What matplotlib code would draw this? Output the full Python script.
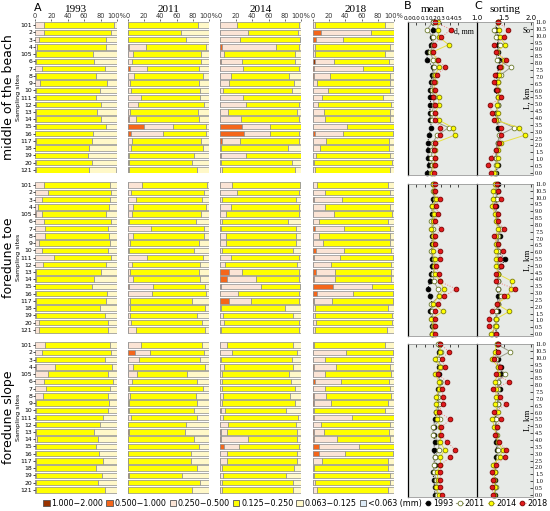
import matplotlib.pyplot as plt
from matplotlib.patches import Patch
from matplotlib.lines import Line2D

# ---- data -------------------------------------------------------------
sites = ['101', '2', '3', '4', '105', '6', '7', '8', '9', '10', '111', '12',
         '13', '14', '15', '16', '117', '18', '19', '20', '121']
site_km = [11.0, 10.45, 9.9, 9.35, 8.8, 8.25, 7.7, 7.15, 6.6, 6.05, 5.5,
           4.95, 4.4, 3.85, 3.3, 2.75, 2.2, 1.65, 1.1, 0.55, 0.0]
years = ['1993', '2011', '2014', '2018']
zones = ['middle of the beach', 'foredune toe', 'foredune slope']
fractions = ['1.000\u22122.000', '0.500\u22121.000', '0.250\u22120.500',
             '0.125\u22120.250', '0.063\u22120.125', '<0.063 (mm)']

# grain-size fractions, % (coarse ones given only where present: {row: %})
# middle of the beach
beach_1993_c1 = {}
beach_1993_c2 = {}
beach_1993_pink = [11.5, 10.7, 4.5, 2.5, 1, 1, 8.2, 1, 6.6, 1.6, 1, 1.6, 1, 1.6, 1.6, 0.5, 1.6, 0.5, 0.5, 1, 1]
beach_1993_yel = [84.5, 82.3, 81.5, 83.5, 69.8, 71.4, 77, 73, 80.6, 77.8, 73, 79.4, 75, 78.4, 84.4, 70.5, 67.5, 65.5, 64.5, 68.5, 64.5]
beach_1993_pale = [4, 7, 14, 14, 29, 27.6, 15, 26, 13, 20.6, 26, 19, 24, 20, 14, 29, 31, 34, 35, 30.5, 33]

beach_2011_c1 = {3: 1, 13: 1}
beach_2011_c2 = {6: 2, 14: 19.3, 15: 3.3}
beach_2011_pink = [0.5, 0, 0, 21, 6, 5.3, 21.5, 7, 2, 4, 16.5, 12.3, 2, 8.5, 36.2, 39.7, 5, 3.3, 1, 1, 1]
beach_2011_yel = [86, 65.8, 72, 74, 84.5, 85, 64, 85.6, 85.6, 84.5, 72.5, 81.5, 84.4, 78, 40.5, 53.7, 85.5, 89.3, 80.5, 78.4, 84.6]
beach_2011_pale = [13.5, 34, 28, 4, 9.5, 9.5, 12.5, 7.4, 12.4, 11.5, 11, 6, 13.6, 12.4, 4, 3.3, 9.5, 7.4, 18.5, 20.6, 14.4]

beach_2014_c1 = {5: 0.8, 18: 1}
beach_2014_c2 = {3: 2.5, 14: 27, 15: 30, 16: 2}
beach_2014_pink = [21.4, 34, 24.7, 66.5, 5.3, 26, 29, 13, 11, 4, 28.8, 32.5, 10.3, 26, 34.7, 31.7, 22.7, 1, 30.7, 1, 2]
beach_2014_yel = [76.6, 62, 74, 29, 86.7, 66, 69, 72.6, 80.8, 85.3, 70.8, 65, 85.2, 72, 38, 35.3, 73.3, 82.5, 68, 88.3, 90.6]
beach_2014_pale = [2, 4, 1.3, 2, 8, 7.2, 2, 14.4, 8.2, 10.7, 0.4, 2.5, 4.5, 2, 0.3, 3, 2, 16.5, 0.3, 10.7, 7.4]

beach_2018_c1 = {5: 2.5}
beach_2018_c2 = {1: 10, 2: 3.3, 6: 1.6, 7: 1.5, 15: 2.5}
beach_2018_pink = [3, 62, 33.7, 3, 2, 23.8, 59.7, 20, 5, 18, 11.5, 6.6, 13, 15.2, 42, 34.5, 16, 8.2, 3.7, 1.5, 3]
beach_2018_yel = [85.5, 27.6, 62.6, 91.7, 87.3, 67, 37.5, 74, 90.5, 77.5, 75, 89.7, 82.5, 79.5, 57.6, 61.8, 78.2, 85.2, 91.8, 96, 91.7]
beach_2018_pale = [11.5, 0.4, 0.4, 5.3, 10.7, 6.7, 1.2, 4.5, 4.5, 4.5, 13.5, 3.7, 4.5, 5.3, 0.4, 1.2, 5.8, 6.6, 4.5, 2.5, 5.3]

# foredune toe
toe_1993_c1 = {4: 0.8}
toe_1993_c2 = {}
toe_1993_pink = [11.5, 15.6, 8.2, 3.3, 7.8, 11.5, 12.8, 12.8, 4.5, 8.2, 23, 10.3, 1.6, 1.6, 0.5, 1.6, 1.6, 1.6, 1.6, 5.3, 5.3]
toe_1993_yel = [79.5, 77.4, 83.6, 86.4, 78.2, 81.5, 75.7, 77, 86.5, 80.3, 69.6, 76.5, 79, 70.8, 68.5, 86.4, 84.4, 77.8, 83.2, 83.7, 83.7]
toe_1993_pale = [9, 7, 8.2, 10.3, 13.2, 7, 11.5, 10.2, 9, 11.5, 7.4, 13.2, 19.4, 27.6, 31, 12, 14, 20.6, 15.2, 11, 11]

toe_2011_c1 = {14: 1.2}
toe_2011_c2 = {}
toe_2011_pink = [17.7, 4, 10.3, 6, 5.3, 1, 28.8, 6, 2, 1, 24, 5.3, 3, 6, 29.8, 29.6, 2, 2, 2, 4, 10.3]
toe_2011_yel = [79.8, 89.4, 81, 90.7, 85.2, 83.4, 64.6, 87.4, 85.2, 80, 68.6, 84, 84.2, 83.3, 64.5, 67.1, 77.4, 93.5, 83.6, 87.8, 85.2]
toe_2011_pale = [2.5, 6.6, 8.7, 3.3, 9.5, 15.6, 6.6, 6.6, 12.8, 19, 7.4, 10.7, 12.8, 10.7, 4.5, 3.3, 20.6, 4.5, 14.4, 8.2, 4.5]

toe_2014_c1 = {14: 1}
toe_2014_c2 = {12: 11, 13: 8.2, 16: 11}
toe_2014_pink = [14.4, 21, 2, 13, 7.4, 3, 1.6, 7.4, 7, 3, 13.6, 6.2, 16.6, 35.8, 49.2, 22.6, 27.3, 1, 4, 5, 1]
toe_2014_yel = [84.4, 77, 91.8, 84.5, 89.6, 80.5, 92.2, 86, 86.4, 87.5, 84.4, 89.3, 70.4, 54, 48.6, 75.4, 59.7, 79.6, 86.5, 92, 96]
toe_2014_pale = [1.2, 2, 6.2, 2.5, 3, 16.5, 6.2, 6.6, 6.6, 9.5, 2, 4.5, 2, 2, 1.2, 2, 2, 19.4, 9.5, 3, 3]

toe_2018_c1 = {2: 1, 10: 1, 16: 1}
toe_2018_c2 = {6: 3, 9: 3.7, 12: 3.7, 13: 1, 14: 24.7, 15: 5}
toe_2018_pink = [5, 14.4, 34.8, 14.4, 25.5, 7, 35.7, 7.8, 12, 34.2, 32, 22.6, 23.9, 25.7, 48.1, 44, 22.5, 3, 3, 3.7, 3]
toe_2018_yel = [87.2, 81, 63.8, 81, 72, 85.2, 56.8, 86.9, 83.5, 58.4, 65.8, 73.7, 68.7, 69.6, 26.8, 49.8, 75.3, 89.6, 94.5, 93.8, 88.4]
toe_2018_pale = [7.8, 4.6, 0.4, 4.6, 2.5, 7.8, 4.5, 5.3, 4.5, 3.7, 1.2, 3.7, 3.7, 3.7, 0.4, 1.2, 1.2, 7.4, 2.5, 2.5, 8.6]

# foredune slope
slope_1993_c1 = {3: 1}
slope_1993_c2 = {}
slope_1993_pink = [12.8, 8.2, 1.2, 23, 15.6, 10.7, 14, 9.5, 1.6, 1.6, 1, 1, 1, 2.5, 1, 1, 1, 1, 1, 1, 1.6]
slope_1993_yel = [79, 84.4, 83.8, 69.8, 73.4, 84, 77, 79, 88.1, 87.4, 81.7, 78.4, 71.4, 74.9, 73.5, 77.2, 82.5, 73, 81.3, 75.5, 83.2]
slope_1993_pale = [8.2, 7.4, 15, 6.2, 11, 5.3, 9, 11.5, 10.3, 11, 17.3, 20.6, 27.6, 22.6, 25.5, 21.8, 16.5, 26, 17.7, 23.5, 15.2]

slope_2011_c1 = {12: 0.8, 18: 0.8}
slope_2011_c2 = {1: 9}
slope_2011_pink = [16.5, 17.7, 13.6, 6, 11, 5, 1, 2.5, 1, 1.5, 4, 0.5, 0, 0.5, 0.5, 0.5, 0.5, 0.5, 0, 0.5, 0.5]
slope_2011_yel = [75.3, 66.7, 74.9, 89.5, 61.8, 80.2, 91.6, 81.9, 84.2, 79.5, 81.2, 70.7, 70, 80.5, 87.1, 77.7, 76.9, 84.7, 66.2, 88, 78.9]
slope_2011_pale = [8.2, 6.6, 11.5, 4.5, 27.2, 14.8, 7.4, 15.6, 14.8, 19, 14.8, 28.8, 29.2, 19, 12.4, 21.8, 22.6, 14.8, 33, 11.5, 20.6]

slope_2014_c1 = {9: 1, 12: 1, 13: 1}
slope_2014_c2 = {14: 5.3}
slope_2014_pink = [8.2, 14.4, 1, 5.3, 2, 2.5, 2.5, 3.3, 3, 5.2, 4, 9.5, 8, 34, 18.6, 8.2, 8.2, 2.5, 3.3, 2, 2]
slope_2014_yel = [81.5, 81.1, 87.5, 85.2, 83.6, 85.1, 90.5, 83.1, 89.6, 74.8, 91.9, 83.9, 85.7, 59.7, 74.1, 86.5, 86.5, 89.3, 77.7, 88, 88]
slope_2014_pale = [10.3, 4.5, 11.5, 9.5, 14.4, 12.4, 7, 13.6, 7.4, 19, 4.1, 6.6, 5.3, 5.3, 2, 5.3, 5.3, 8.2, 19, 10, 10]

slope_2018_c1 = {13: 0.8}
slope_2018_c2 = {3: 1.6, 5: 3, 7: 1.5, 8: 1.5, 10: 1.2, 12: 1.2, 14: 7, 15: 7}
slope_2018_pink = [1, 41, 14.4, 27.2, 14.4, 31.6, 15.2, 15, 21.1, 1.6, 46.8, 10, 11.8, 28.8, 49.4, 32, 11, 1, 1, 2, 5]
slope_2018_yel = [87.5, 57.8, 81.9, 66.7, 82.3, 58.8, 80.3, 80.2, 69.6, 86.9, 51.6, 85.5, 80.4, 65.9, 43.2, 59.4, 81.2, 91.2, 93.7, 93, 88]
slope_2018_pale = [11.5, 1.2, 3.7, 4.5, 3.3, 6.6, 4.5, 3.3, 7.8, 11.5, 0.4, 4.5, 6.6, 4.5, 0.4, 1.6, 7.8, 7.8, 5.3, 5, 7]

# mean grain size d, mm
beach_mean_1993 = [0.20, 0.20, 0.19, 0.18, 0.13, 0.13, 0.20, 0.19, 0.18, 0.17, 0.17, 0.17, 0.16, 0.17, 0.18, 0.15, 0.14, 0.14, 0.14, 0.15, 0.13]
beach_mean_2011 = [0.20, 0.13, 0.20, 0.20, 0.17, 0.20, 0.21, 0.21, 0.20, 0.19, 0.21, 0.21, 0.19, 0.19, 0.39, 0.25, 0.20, 0.19, 0.18, 0.19, 0.18]
beach_mean_2014 = [0.26, 0.26, 0.27, 0.39, 0.19, 0.25, 0.27, 0.23, 0.22, 0.21, 0.27, 0.27, 0.23, 0.27, 0.44, 0.46, 0.23, 0.22, 0.23, 0.21, 0.19]
beach_mean_2018 = [0.22, 0.42, 0.30, 0.21, 0.20, 0.26, 0.35, 0.25, 0.21, 0.22, 0.20, 0.22, 0.22, 0.22, 0.29, 0.28, 0.22, 0.21, 0.22, 0.22, 0.21]
toe_mean_1993 = [0.20, 0.21, 0.20, 0.19, 0.19, 0.21, 0.19, 0.19, 0.19, 0.19, 0.19, 0.19, 0.18, 0.16, 0.14, 0.17, 0.19, 0.16, 0.19, 0.19, 0.19]
toe_mean_2011 = [0.21, 0.20, 0.23, 0.21, 0.21, 0.18, 0.20, 0.21, 0.21, 0.18, 0.21, 0.22, 0.20, 0.21, 0.26, 0.27, 0.18, 0.19, 0.20, 0.20, 0.20]
toe_mean_2014 = [0.20, 0.21, 0.24, 0.19, 0.21, 0.20, 0.18, 0.20, 0.20, 0.20, 0.22, 0.21, 0.22, 0.29, 0.33, 0.27, 0.20, 0.32, 0.18, 0.21, 0.19]
toe_mean_2018 = [0.22, 0.22, 0.28, 0.24, 0.26, 0.23, 0.30, 0.23, 0.22, 0.29, 0.28, 0.24, 0.27, 0.28, 0.48, 0.33, 0.26, 0.23, 0.22, 0.22, 0.22]
slope_mean_1993 = [0.27, 0.27, 0.24, 0.27, 0.27, 0.28, 0.26, 0.25, 0.26, 0.24, 0.22, 0.21, 0.21, 0.22, 0.21, 0.22, 0.22, 0.20, 0.21, 0.22, 0.22]
slope_mean_2011 = [0.26, 0.30, 0.26, 0.30, 0.25, 0.29, 0.28, 0.26, 0.27, 0.26, 0.29, 0.20, 0.20, 0.27, 0.27, 0.22, 0.21, 0.21, 0.24, 0.25, 0.25]
slope_mean_2014 = [0.28, 0.29, 0.23, 0.29, 0.23, 0.27, 0.27, 0.24, 0.24, 0.24, 0.25, 0.29, 0.29, 0.29, 0.34, 0.29, 0.29, 0.25, 0.26, 0.24, 0.27]
slope_mean_2018 = [0.29, 0.39, 0.31, 0.34, 0.26, 0.37, 0.31, 0.32, 0.32, 0.27, 0.41, 0.30, 0.30, 0.37, 0.47, 0.41, 0.29, 0.29, 0.29, 0.28, 0.31]

# sorting So
beach_so_1993 = [1.39, 1.35, 1.38, 1.38, 1.38, 1.41, 1.41, 1.36, 1.36, 1.35, 1.38, 1.38, 1.35, 1.36, 1.38, 1.42, 1.38, 1.36, 1.35, 1.38, 1.35]
beach_so_2011 = [1.38, 1.32, 1.35, 1.42, 1.36, 1.36, 1.62, 1.44, 1.38, 1.38, 1.41, 1.39, 1.36, 1.38, 1.68, 1.41, 1.38, 1.35, 1.35, 1.35, 1.33]
beach_so_2014 = [1.39, 1.41, 1.42, 1.52, 1.36, 1.50, 1.45, 1.41, 1.39, 1.38, 1.39, 1.36, 1.38, 1.35, 1.77, 1.88, 1.44, 1.38, 1.38, 1.36, 1.32]
beach_so_2018 = [1.38, 1.57, 1.50, 1.32, 1.35, 1.53, 1.42, 1.33, 1.32, 1.36, 1.44, 1.24, 1.27, 1.32, 1.44, 1.45, 1.41, 1.35, 1.25, 1.21, 1.25]
toe_so_1993 = [1.39, 1.39, 1.35, 1.35, 1.36, 1.36, 1.41, 1.42, 1.36, 1.39, 1.51, 1.45, 1.38, 1.38, 1.38, 1.38, 1.38, 1.38, 1.35, 1.35, 1.35]
toe_so_2011 = [1.35, 1.35, 1.36, 1.30, 1.36, 1.36, 1.44, 1.38, 1.38, 1.38, 1.39, 1.38, 1.39, 1.38, 1.38, 1.44, 1.38, 1.35, 1.35, 1.33, 1.28]
toe_so_2014 = [1.33, 1.30, 1.30, 1.28, 1.33, 1.35, 1.38, 1.35, 1.35, 1.35, 1.35, 1.35, 1.39, 1.65, 1.62, 1.56, 1.36, 1.59, 1.35, 1.35, 1.25]
toe_so_2018 = [1.36, 1.38, 1.44, 1.33, 1.38, 1.38, 1.50, 1.32, 1.38, 1.47, 1.42, 1.44, 1.35, 1.35, 1.69, 1.50, 1.36, 1.28, 1.22, 1.22, 1.35]
slope_so_1993 = [1.38, 1.35, 1.38, 1.44, 1.45, 1.38, 1.42, 1.38, 1.38, 1.35, 1.33, 1.35, 1.35, 1.35, 1.36, 1.35, 1.33, 1.33, 1.33, 1.33, 1.33]
slope_so_2011 = [1.36, 1.61, 1.35, 1.39, 1.52, 1.38, 1.38, 1.39, 1.38, 1.36, 1.35, 1.36, 1.36, 1.38, 1.38, 1.38, 1.33, 1.32, 1.32, 1.35, 1.32]
slope_so_2014 = [1.36, 1.33, 1.28, 1.38, 1.38, 1.33, 1.35, 1.35, 1.33, 1.38, 1.28, 1.32, 1.35, 1.39, 1.47, 1.42, 1.30, 1.33, 1.31, 1.33, 1.31]
slope_so_2018 = [1.38, 1.38, 1.32, 1.42, 1.35, 1.59, 1.30, 1.42, 1.53, 1.32, 1.44, 1.36, 1.33, 1.41, 1.53, 1.52, 1.35, 1.28, 1.29, 1.28, 1.29]

# ---- styling ----------------------------------------------------------
frac_colors = ['#993300', '#F4661B', '#FBE4D5', '#FFFF00', '#FFF8C8', '#DDEBF7']
edge = '#8c8c8c'
yr_style = {
    '1993': dict(color='black', mfc='black', mec='black', ls=':'),
    '2011': dict(color='#9a9a8a', mfc='white', mec='#6b7a2a', ls='-'),
    '2014': dict(color='#e8e040', mfc='#FFFF00', mec='#7a7a10', ls='-'),
    '2018': dict(color='#f08080', mfc='#e31a1c', mec='#7a0000', ls=':'),
}
panel_bg = '#e7eae7'

W, H = 550, 511
fig = plt.figure(figsize=(W / 100, H / 100), dpi=100)


def box(x0, y0, x1, y1):
    return [x0 / W, 1 - y1 / H, (x1 - x0) / W, (y1 - y0) / H]


bar_x = [(35, 117), (128, 209), (220, 301), (313, 394)]
bar_y = [(21.5, 173.5), (181.5, 333.5), (341.5, 493.5)]
pt_y = [(22, 175), (184, 336), (344, 497)]
title_x = [76, 169, 261, 356]
g = globals()
prefixes = ['beach', 'toe', 'slope']
rows = list(range(len(sites)))

for zi, zone in enumerate(zones):
    pre = prefixes[zi]
    for yi, yr in enumerate(years):
        ax = fig.add_axes(box(bar_x[yi][0], bar_y[zi][0], bar_x[yi][1], bar_y[zi][1]))
        c1 = g[f'{pre}_{yr}_c1']
        c2 = g[f'{pre}_{yr}_c2']
        parts = [[c1.get(i, 0) for i in rows], [c2.get(i, 0) for i in rows],
                 g[f'{pre}_{yr}_pink'], g[f'{pre}_{yr}_yel'], g[f'{pre}_{yr}_pale']]
        left = [0] * len(rows)
        for k, vals in enumerate(parts):
            ax.barh(rows, vals, left=left, height=0.76, color=frac_colors[k],
                    edgecolor=edge, linewidth=0.5)
            left = [a + b for a, b in zip(left, vals)]
        ax.set_xlim(0, 100)
        ax.set_ylim(20.5, -0.5)
        for s in ax.spines.values():
            s.set_visible(False)
        ax.set_yticks(rows)
        if yi == 0:
            ax.set_yticklabels(sites, fontsize=4.4)
            ax.tick_params(axis='y', length=1.5, pad=0.6, width=0.5)
        else:
            ax.set_yticklabels([])
            ax.tick_params(axis='y', length=0)
        if zi == 0:
            ax.xaxis.tick_top()
            ax.set_xticks([0, 20, 40, 60, 80, 100])
            ax.set_xticklabels(['0', '20', '40', '60', '80', '100%'], fontsize=4.8)
            ax.tick_params(axis='x', length=1.5, pad=0.5, width=0.5, colors='#333333')
            fig.text(title_x[yi] / W, 1 - 9 / H, yr, fontsize=8, ha='center',
                     va='center', family='Liberation Serif')
        else:
            ax.set_xticks([])
        if yi == 0:
            yc = 1 - (bar_y[zi][0] + bar_y[zi][1]) / 2 / H
            fig.text(8.5 / W, yc, zone, rotation=90, ha='center', va='center', fontsize=9)
            fig.text(18.5 / W, yc, 'Sampling sites', rotation=90, ha='center',
                     va='center', fontsize=4.6)

    # mean (B) and sorting (C)
    axb = fig.add_axes(box(408, pt_y[zi][0], 477, pt_y[zi][1]))
    axc = fig.add_axes(box(477, pt_y[zi][0], 533, pt_y[zi][1]))
    for ax, kind in ((axb, 'mean'), (axc, 'so')):
        ax.set_facecolor(panel_bg)
        ax.set_ylim(-0.15, 11.0)
        for yr in years:
            st = yr_style[yr]
            ax.plot(g[f'{pre}_{kind}_{yr}'], site_km, ls=st['ls'], color=st['color'],
                    lw=0.7, marker='o', ms=3.4, mfc=st['mfc'], mec=st['mec'], mew=0.6,
                    clip_on=False)
        for s in ax.spines.values():
            s.set_color('#999999')
            s.set_linewidth(0.6)
        ax.spines['left'].set_color('black')
        ax.spines['left'].set_linewidth(0.9)
        ax.xaxis.tick_top()
        ax.tick_params(axis='x', direction='in', length=2, width=0.5, labelsize=4.1, pad=1)
    axb.set_xlim(-0.1, 0.73)
    axb.set_xticks([-0.1, 0, 0.1, 0.2, 0.3, 0.4, 0.5])
    axb.set_yticks([])
    axc.set_xlim(1.0, 2.03)
    axc.set_xticks([1.0, 1.5, 2.0])
    axc.yaxis.tick_right()
    axc.set_yticks([i * 0.5 for i in range(23)])
    axc.set_yticklabels([f'{i * 0.5:.1f}' for i in range(23)], fontsize=4.5,
                        family='Liberation Serif')
    axc.tick_params(axis='y', direction='in', length=2, width=0.5, pad=1.5)
    axc.text(0.91, 0.5, 'L, km', rotation=90, transform=axc.transAxes,
             ha='center', va='center', fontsize=6.5, family='Liberation Serif')
    if zi == 0:
        axb.set_xticklabels(['0.0', '0.0', '0.1', '0.2', '0.3', '0.4', '0.5'])
        axc.set_xticklabels(['1.0', '1.5', '2.0'], fontsize=5)
        axb.text(0.95, 0.965, 'd, mm', transform=axb.transAxes, ha='right',
                 va='top', fontsize=5.5, family='Liberation Serif')
        axc.text(0.95, 0.965, 'So', transform=axc.transAxes, ha='right',
                 va='top', fontsize=5.5, family='Liberation Serif')
    else:
        axb.set_xticklabels([])
        axc.set_xticklabels([])

fig.text(38 / W, 1 - 8 / H, 'A', fontsize=8, ha='center', va='center')
fig.text(408 / W, 1 - 6 / H, 'B', fontsize=8, ha='center', va='center')
fig.text(478 / W, 1 - 6 / H, 'C', fontsize=8, ha='center', va='center')
fig.text(433 / W, 1 - 9 / H, 'mean', fontsize=8, ha='center', va='center',
         family='Liberation Serif')
fig.text(505 / W, 1 - 9 / H, 'sorting', fontsize=8, ha='center', va='center',
         family='Liberation Serif')

handles = [Patch(facecolor=c, edgecolor='#555555', linewidth=0.6) for c in frac_colors]
labels = list(fractions)
for yr in years:
    st = yr_style[yr]
    handles.append(Line2D([], [], ls=st['ls'], color=st['color'], lw=0.8, marker='o',
                          ms=3.4, mfc=st['mfc'], mec=st['mec'], mew=0.6))
    labels.append(yr)
fig.legend(handles, labels, loc='center', bbox_to_anchor=(0.537, 1 - 503 / H), ncol=10,
           fontsize=5.8, frameon=False, handlelength=0.8, handleheight=0.8,
           handletextpad=0.2, columnspacing=0.4, borderaxespad=0)

fig.savefig('out.png', dpi=100)
